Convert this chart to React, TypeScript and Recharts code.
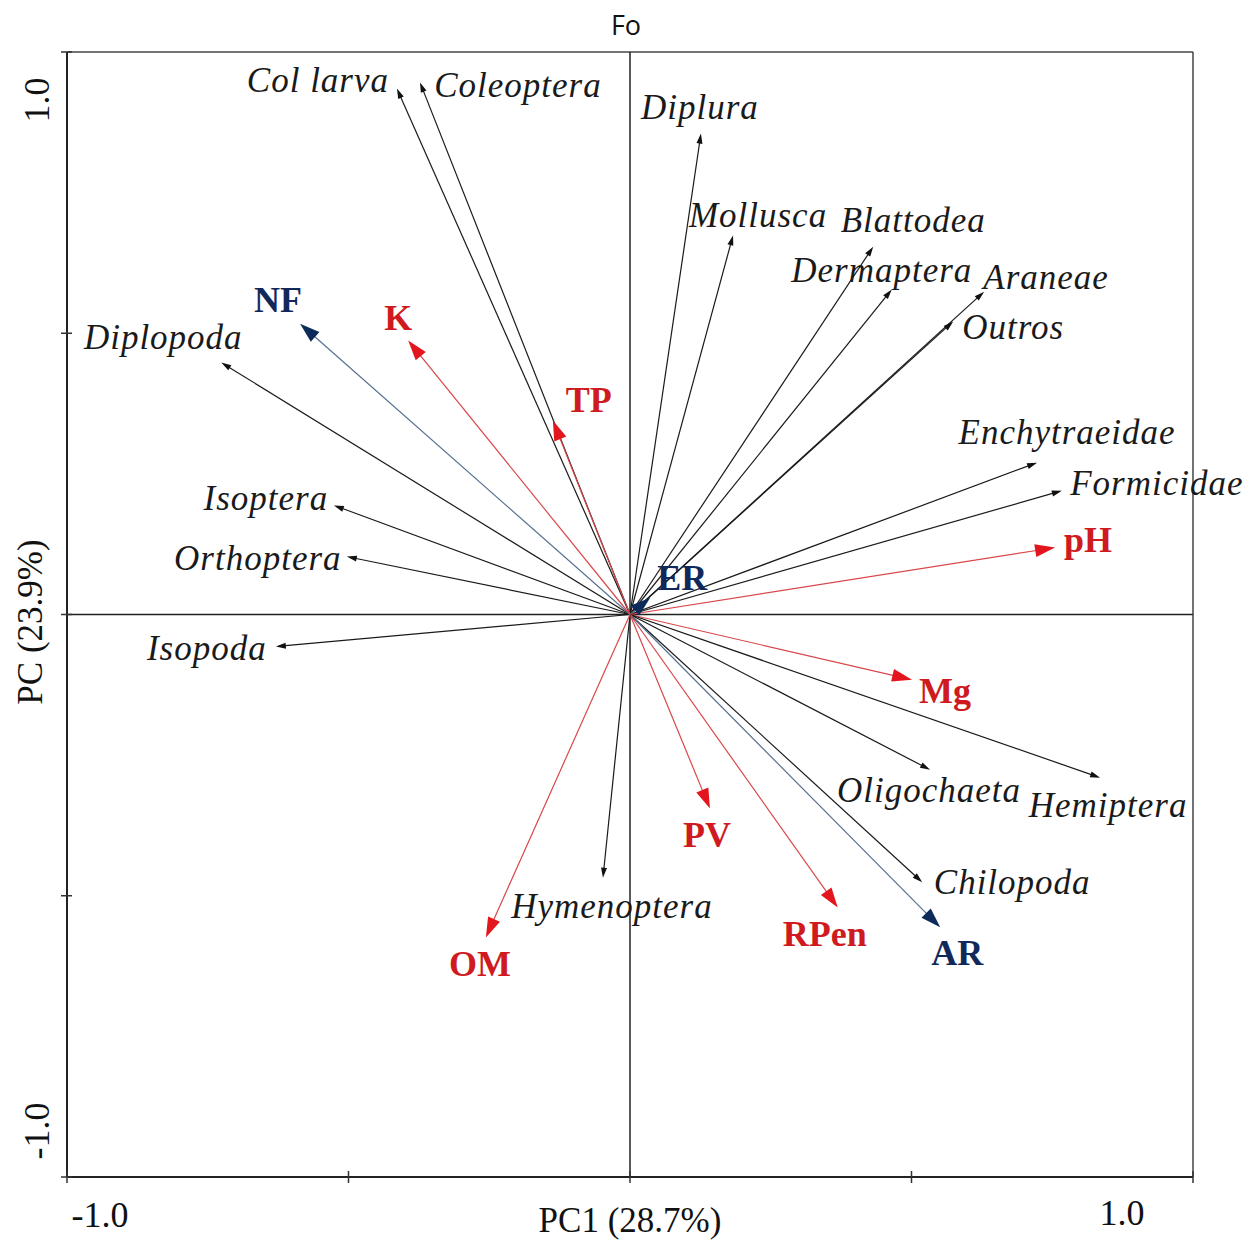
import React from 'react';
import { ScatterChart, Scatter, XAxis, YAxis, ReferenceLine } from 'recharts';

document.body.style.margin = '0';

// PCA loadings
const variables = [
  'Col larva', 'Coleoptera', 'Diplura', 'Mollusca', 'Blattodea', 'Dermaptera', 'Araneae',
  'Outros', 'Enchytraeidae', 'Formicidae', 'pH', 'ER', 'Mg', 'Oligochaeta', 'Hemiptera',
  'Chilopoda', 'AR', 'RPen', 'PV', 'Hymenoptera', 'OM', 'Isopoda', 'Orthoptera', 'Isoptera',
  'Diplopoda', 'NF', 'K', 'TP',
];
const pc1 = [
  -0.414, -0.373, 0.126, 0.183, 0.432, 0.465, 0.629,
  0.574, 0.723, 0.767, 0.755, 0.036, 0.501, 0.533, 0.835,
  0.519, 0.551, 0.369, 0.142, -0.048, -0.256, -0.629, -0.503, -0.526,
  -0.726, -0.586, -0.394, -0.137,
];
const pc2 = [
  0.935, 0.946, 0.855, 0.674, 0.654, 0.578, 0.574,
  0.521, 0.27, 0.22, 0.119, 0.03, -0.116, -0.276, -0.29,
  -0.476, -0.556, -0.521, -0.345, -0.468, -0.574, -0.057, 0.103, 0.194,
  0.448, 0.517, 0.487, 0.345,
];
// fauna = soil fauna groups, chem = chemical attributes, phys = physical attributes
const groups = [
  'fauna', 'fauna', 'fauna', 'fauna', 'fauna', 'fauna', 'fauna',
  'fauna', 'fauna', 'fauna', 'chem', 'phys', 'chem', 'fauna', 'fauna',
  'fauna', 'phys', 'chem', 'chem', 'fauna', 'chem', 'fauna', 'fauna', 'fauna',
  'fauna', 'phys', 'chem', 'chem',
];
const xTicks = [-1, -0.5, 0, 0.5, 1];
const yTicks = [-1, -0.5, 0, 0.5, 1];

const points = variables.map((name, i) => ({ name, x: pc1[i], y: pc2[i], group: groups[i] }));

// label placement relative to the arrow tip (px)
const labelOffset: Record<string, [number, number]> = {
  'Col larva': [-79, -8], Coleoptera: [98, 3], Diplura: [-1, -26], Mollusca: [25, -20],
  Blattodea: [40, -26], Dermaptera: [-10, -19], Araneae: [62, -14], Outros: [60, 6],
  Enchytraeidae: [30, -30], Formicidae: [95, -7], pH: [33, -8], ER: [32, -20],
  Mg: [33, 11], Oligochaeta: [-1, 21], Hemiptera: [8, 28], Chilopoda: [90, 0],
  AR: [17, 26], RPen: [-13, 26], PV: [-3, 26], Hymenoptera: [9, 29], OM: [-6, 27],
  Isopoda: [-69, 2], Orthoptera: [-89, 2], Isoptera: [-68, -7], Diplopoda: [-58, -25],
  NF: [-22, -24], K: [-10, -23], TP: [36, -20],
};

const style: Record<string, { line: string; head: string; text: string; len: number; wid: number }> = {
  fauna: { line: '#1a1a1a', head: '#111', text: '#1a1a1a', len: 10, wid: 6 },
  chem: { line: '#d9474a', head: '#e3161d', text: '#cf1a20', len: 20, wid: 13 },
  phys: { line: '#56708f', head: '#0c2a5a', text: '#10295a', len: 20, wid: 13 },
};

const serif = '"Liberation Serif", "Times New Roman", serif';

const Arrow = (group: string) => (props: any) => {
  const { x1, y1, x2, y2 } = props;
  const s = style[group];
  const dx = x2 - x1;
  const dy = y2 - y1;
  const len = Math.sqrt(dx * dx + dy * dy) || 1;
  const ux = dx / len;
  const uy = dy / len;
  const bx = x2 - ux * s.len;
  const by = y2 - uy * s.len;
  const nx = -uy * (s.wid / 2);
  const ny = ux * (s.wid / 2);
  return (
    <g>
      <line x1={x1} y1={y1} x2={x2 - ux * s.len * 0.7} y2={y2 - uy * s.len * 0.7} stroke={s.line} strokeWidth={1.2} />
      <polygon points={`${x2},${y2} ${bx + nx},${by + ny} ${bx - nx},${by - ny}`} fill={s.head} />
    </g>
  );
};

const Label = (props: any) => {
  const { cx, cy, payload } = props;
  const s = style[payload.group];
  const [ox, oy] = labelOffset[payload.name] || [0, 0];
  const fauna = payload.group === 'fauna';
  return (
    <text
      x={cx + ox}
      y={cy + oy}
      textAnchor="middle"
      dominantBaseline="central"
      fontFamily={serif}
      fontSize={fauna ? 35 : 36}
      letterSpacing={fauna ? 1 : 0}
      fontStyle={fauna ? 'italic' : 'normal'}
      fontWeight={fauna ? 'normal' : 'bold'}
      fill={s.text}
    >
      {payload.name}
    </text>
  );
};

const XTick = (props: any) => {
  const { x, y, payload } = props;
  const v = payload.value;
  return (
    <g>
      <line x1={x} y1={y - 6} x2={x} y2={y + 6} stroke="#333" strokeWidth={1.5} />
      {v === -1 && (
        <text x={x + 33} y={y + 38} textAnchor="middle" dominantBaseline="central" fontFamily={serif} fontSize={36} fill="#111">-1.0</text>
      )}
      {v === 1 && (
        <text x={x - 71} y={y + 36} textAnchor="middle" dominantBaseline="central" fontFamily={serif} fontSize={36} fill="#111">1.0</text>
      )}
    </g>
  );
};

const YTick = (props: any) => {
  const { x, y, payload } = props;
  const v = payload.value;
  const tx = x - 30;
  return (
    <g>
      <line x1={x - 6} y1={y} x2={x + 5} y2={y} stroke="#333" strokeWidth={1.5} />
      {v === 1 && (
        <text x={tx} y={y + 48} transform={`rotate(-90 ${tx} ${y + 48})`} textAnchor="middle" dominantBaseline="central" fontFamily={serif} fontSize={36} fill="#111">1.0</text>
      )}
      {v === -1 && (
        <text x={tx} y={y - 46} transform={`rotate(-90 ${tx} ${y - 46})`} textAnchor="middle" dominantBaseline="central" fontFamily={serif} fontSize={36} fill="#111">-1.0</text>
      )}
    </g>
  );
};

export default function App() {
  return (
    <div style={{ position: 'relative', width: 1245, height: 1240, background: '#fff' }}>
      <div
        style={{
          position: 'absolute', left: 0, width: 1252, top: 6, textAlign: 'center',
          fontFamily: '"Open Sans", "Noto Sans", sans-serif', fontSize: 27, color: '#111', lineHeight: '38px',
        }}
      >
        Fo
      </div>
      <ScatterChart width={1245} height={1240} margin={{ top: 52, right: 52, bottom: 0, left: 0 }}>
        <XAxis
          type="number"
          dataKey="x"
          domain={[-1, 1]}
          ticks={xTicks}
          height={63}
          tickSize={0}
          tickMargin={0}
          tick={<XTick />}
          axisLine={{ stroke: '#222', strokeWidth: 2 }}
          tickLine={false}
        />
        <YAxis
          type="number"
          dataKey="y"
          domain={[-1, 1]}
          ticks={yTicks}
          width={67}
          tickSize={0}
          tickMargin={0}
          tick={<YTick />}
          axisLine={{ stroke: '#222', strokeWidth: 2 }}
          tickLine={false}
        />
        <ReferenceLine y={1} stroke="#444" strokeWidth={1.5} />
        <ReferenceLine x={1} stroke="#444" strokeWidth={1.5} />
        <ReferenceLine y={0} stroke="#222" strokeWidth={1.5} />
        <ReferenceLine x={0} stroke="#222" strokeWidth={1.5} />
        {points.map((p) => (
          <ReferenceLine
            key={p.name}
            segment={[{ x: 0, y: 0 }, { x: p.x, y: p.y }]}
            shape={Arrow(p.group)}
          />
        ))}
        <Scatter data={points} shape={<Label />} isAnimationActive={false} />
        <text
          x={630}
          y={1220}
          textAnchor="middle"
          dominantBaseline="central"
          fontFamily={serif}
          fontSize={35}
          fill="#111"
        >
          PC1 (28.7%)
        </text>
        <text
          x={30}
          y={622}
          transform="rotate(-90 30 622)"
          textAnchor="middle"
          dominantBaseline="central"
          fontFamily={serif}
          fontSize={35}
          fill="#111"
        >
          PC (23.9%)
        </text>
      </ScatterChart>
    </div>
  );
}
